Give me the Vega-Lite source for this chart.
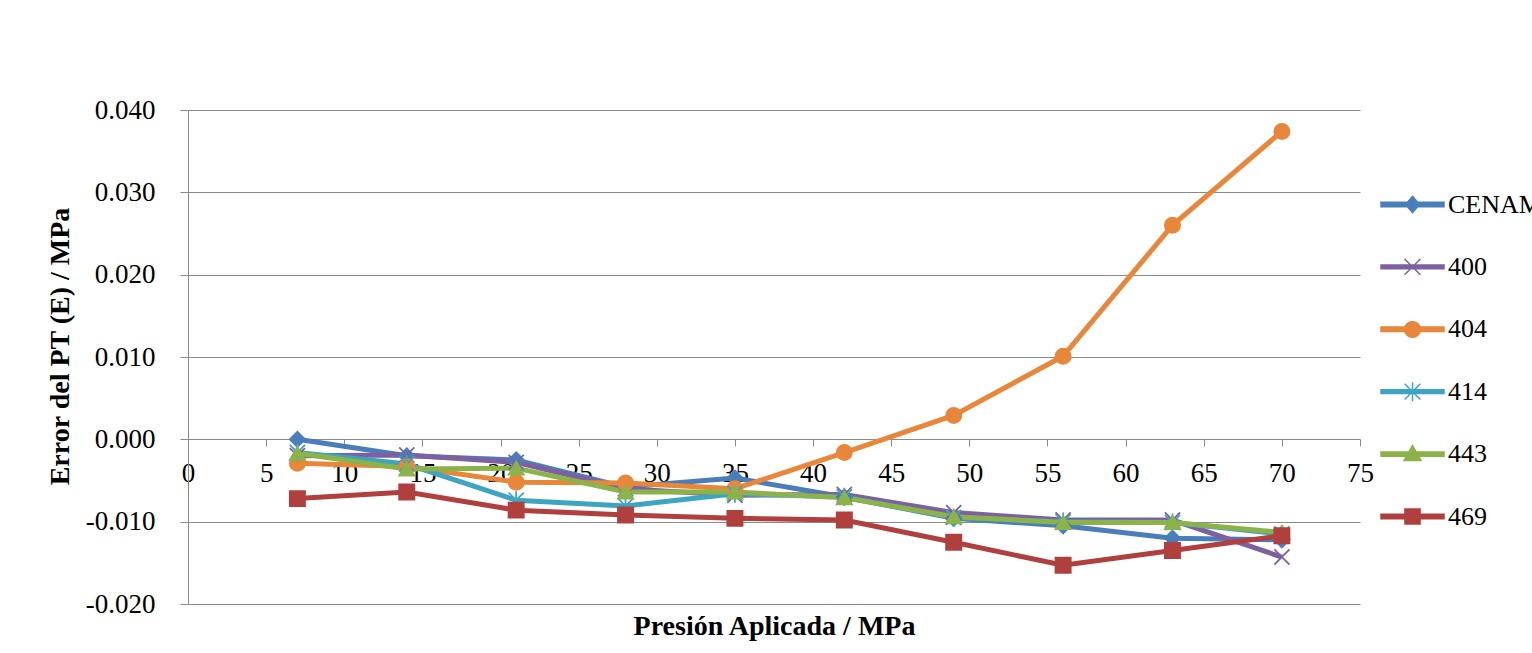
{
  "$schema": "https://vega.github.io/schema/vega-lite/v6.json",
  "width": 1172,
  "height": 494,
  "autosize": {"type": "none"},
  "padding": {"left": 188, "top": 110, "right": 172, "bottom": 49},
  "background": "white",
  "config": {
    "view": {"stroke": null},
    "font": "Liberation Serif",
    "axis": {"labelFont": "Liberation Serif", "titleFont": "Liberation Serif", "labelColor": "#000000", "titleColor": "#000000"},
    "legend": {"labelFont": "Liberation Serif"}
  },
  "data": {
    "values": [
      {"s": "CENAM", "x": 7, "y": 0.0000},
      {"s": "CENAM", "x": 14, "y": -0.0020},
      {"s": "CENAM", "x": 21, "y": -0.0025},
      {"s": "CENAM", "x": 28, "y": -0.0058},
      {"s": "CENAM", "x": 35, "y": -0.0047},
      {"s": "CENAM", "x": 42, "y": -0.0070},
      {"s": "CENAM", "x": 49, "y": -0.0096},
      {"s": "CENAM", "x": 56, "y": -0.0105},
      {"s": "CENAM", "x": 63, "y": -0.0120},
      {"s": "CENAM", "x": 70, "y": -0.0122},
      {"s": "400", "x": 7, "y": -0.0020},
      {"s": "400", "x": 14, "y": -0.0019},
      {"s": "400", "x": 21, "y": -0.0028},
      {"s": "400", "x": 28, "y": -0.0060},
      {"s": "400", "x": 35, "y": -0.0068},
      {"s": "400", "x": 42, "y": -0.0067},
      {"s": "400", "x": 49, "y": -0.0089},
      {"s": "400", "x": 56, "y": -0.0098},
      {"s": "400", "x": 63, "y": -0.0098},
      {"s": "400", "x": 70, "y": -0.0143},
      {"s": "404", "x": 7, "y": -0.0029},
      {"s": "404", "x": 14, "y": -0.0033},
      {"s": "404", "x": 21, "y": -0.0052},
      {"s": "404", "x": 28, "y": -0.0053},
      {"s": "404", "x": 35, "y": -0.0060},
      {"s": "404", "x": 42, "y": -0.0016},
      {"s": "404", "x": 49, "y": 0.0029},
      {"s": "404", "x": 56, "y": 0.0101},
      {"s": "404", "x": 63, "y": 0.0260},
      {"s": "404", "x": 70, "y": 0.0374},
      {"s": "414", "x": 7, "y": -0.0016},
      {"s": "414", "x": 14, "y": -0.0030},
      {"s": "414", "x": 21, "y": -0.0074},
      {"s": "414", "x": 28, "y": -0.0081},
      {"s": "414", "x": 35, "y": -0.0066},
      {"s": "414", "x": 42, "y": -0.0070},
      {"s": "414", "x": 49, "y": -0.0095},
      {"s": "414", "x": 56, "y": -0.0100},
      {"s": "414", "x": 63, "y": -0.0101},
      {"s": "414", "x": 70, "y": -0.0115},
      {"s": "443", "x": 7, "y": -0.0017},
      {"s": "443", "x": 14, "y": -0.0036},
      {"s": "443", "x": 21, "y": -0.0035},
      {"s": "443", "x": 28, "y": -0.0064},
      {"s": "443", "x": 35, "y": -0.0064},
      {"s": "443", "x": 42, "y": -0.0071},
      {"s": "443", "x": 49, "y": -0.0094},
      {"s": "443", "x": 56, "y": -0.0101},
      {"s": "443", "x": 63, "y": -0.0101},
      {"s": "443", "x": 70, "y": -0.0113},
      {"s": "469", "x": 7, "y": -0.0072},
      {"s": "469", "x": 14, "y": -0.0064},
      {"s": "469", "x": 21, "y": -0.0086},
      {"s": "469", "x": 28, "y": -0.0092},
      {"s": "469", "x": 35, "y": -0.0096},
      {"s": "469", "x": 42, "y": -0.0098},
      {"s": "469", "x": 49, "y": -0.0125},
      {"s": "469", "x": 56, "y": -0.0153},
      {"s": "469", "x": 63, "y": -0.0135},
      {"s": "469", "x": 70, "y": -0.0117}
    ]
  },
  "encoding": {
    "x": {
      "field": "x", "type": "quantitative",
      "scale": {"domain": [0, 75], "nice": false, "zero": false},
      "axis": {
        "values": [0, 5, 10, 15, 20, 25, 30, 35, 40, 45, 50, 55, 60, 65, 70, 75],
        "offset": -165, "grid": false, "domain": false,
        "tickColor": "#8a8a8a", "tickSize": 7, "tickWidth": 1,
        "labelFontSize": 27, "labelPadding": 14, "labelFlush": false,
        "title": "Presión Aplicada / MPa", "titleFontSize": 28, "titleFontWeight": "bold",
        "titlePadding": 126
      }
    },
    "y": {
      "field": "y", "type": "quantitative",
      "scale": {"domain": [-0.02, 0.04], "nice": false, "zero": false},
      "axis": {
        "values": [-0.02, -0.01, 0, 0.01, 0.02, 0.03, 0.04],
        "format": ".3f", "labelExpr": "replace(datum.label, '−', '-')",
        "grid": true, "gridColor": "#8a8a8a", "gridWidth": 1,
        "domainColor": "#8a8a8a", "tickColor": "#8a8a8a", "tickSize": 8,
        "labelFontSize": 27, "labelPadding": 25,
        "title": "Error del PT (E) / MPa", "titleFontSize": 28, "titleFontWeight": "bold",
        "titlePadding": 11, "titleY": 236
      }
    }
  },
  "layer": [
    {
      "mark": {"type": "point", "opacity": 0, "filled": true},
      "encoding": {
        "shape": {
          "field": "s", "type": "nominal",
          "scale": {
            "domain": ["CENAM", "400", "404", "414", "443", "469"],
            "range": [
              "M-1,-0.07H1V0.07H-1Z M0,-0.26L0.22,0L0,0.26L-0.22,0Z",
              "M-1,-0.06H1V0.06H-1Z M-0.25,-0.25L0.25,0.25M-0.25,0.25L0.25,-0.25",
              "M-1,-0.07H1V0.07H-1Z M-0.25,0A0.25,0.25,0,1,1,0.25,0A0.25,0.25,0,1,1,-0.25,0Z",
              "M-1,-0.06H1V0.06H-1Z M-0.25,-0.25L0.25,0.25M-0.25,0.25L0.25,-0.25M0,-0.3L0,0.3",
              "M-1,-0.07H1V0.07H-1Z M0,-0.27L0.27,0.2L-0.27,0.2Z",
              "M-1,-0.07H1V0.07H-1Z M-0.24,-0.24H0.24V0.24H-0.24Z"
            ]
          },
          "legend": {
            "title": null, "orient": "none", "legendX": 1192, "legendY": 62,
            "symbolSize": 3969, "symbolStrokeWidth": 1.5, "symbolOpacity": 1,
            "labelFontSize": 26, "labelOffset": 3, "rowPadding": 16.4, "padding": 0,
            "labelColor": "#000000"
          }
        },
        "fill": {
          "field": "s", "type": "nominal",
          "scale": {"domain": ["CENAM", "400", "404", "414", "443", "469"], "range": ["#4A7EBB", "#7D60A0", "#E8873A", "#3DA5BF", "#8CB34A", "#B0403E"]}
        },
        "stroke": {
          "field": "s", "type": "nominal",
          "scale": {"domain": ["CENAM", "400", "404", "414", "443", "469"], "range": ["#4A7EBB", "#7D60A0", "#E8873A", "#3DA5BF", "#8CB34A", "#B0403E"]}
        }
      }
    },
    {
      "mark": {"type": "line", "strokeWidth": 5},
      "encoding": {
        "stroke": {
          "field": "s", "type": "nominal", "legend": null,
          "scale": {"domain": ["CENAM", "400", "404", "414", "443", "469"], "range": ["#4A7EBB", "#7D60A0", "#E8873A", "#3DA5BF", "#8CB34A", "#B0403E"]}
        }
      }
    },
    {
      "mark": {"type": "point", "filled": true, "size": 230, "strokeWidth": 1.8, "opacity": 1},
      "encoding": {
        "shape": {
          "field": "s", "type": "nominal", "legend": null,
          "scale": {
            "domain": ["CENAM", "400", "404", "414", "443", "469"],
            "range": ["diamond", "M-1,-1L1,1M-1,1L1,-1", "circle", "M-1,-1L1,1M-1,1L1,-1M0,-1.2L0,1.2", "triangle-up", "square"]
          }
        },
        "fill": {
          "field": "s", "type": "nominal", "legend": null,
          "scale": {"domain": ["CENAM", "400", "404", "414", "443", "469"], "range": ["#4A7EBB", "#7D60A0", "#E8873A", "#3DA5BF", "#8CB34A", "#B0403E"]}
        },
        "stroke": {
          "field": "s", "type": "nominal", "legend": null,
          "scale": {"domain": ["CENAM", "400", "404", "414", "443", "469"], "range": ["#4A7EBB", "#7D60A0", "#E8873A", "#3DA5BF", "#8CB34A", "#B0403E"]}
        }
      }
    }
  ],
  "resolve": {"scale": {"shape": "independent", "fill": "independent", "stroke": "independent"}, "legend": {"shape": "independent", "fill": "independent", "stroke": "independent"}}
}
